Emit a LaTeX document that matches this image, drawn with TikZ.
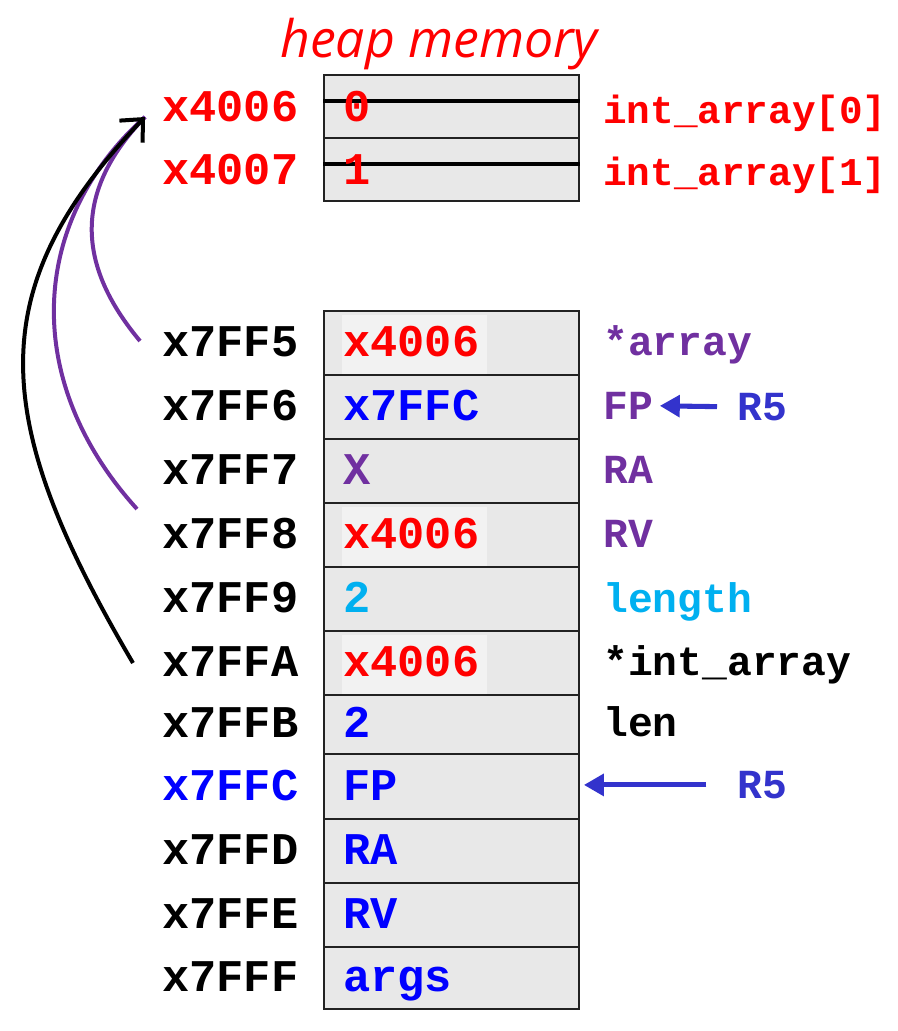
\documentclass[tikz,border=0pt]{standalone}
\usepackage{fontspec}
\newfontfamily\mono{Liberation Mono}
\newfontfamily\headfont{Open Sans}
\usetikzlibrary{arrows.meta}
\definecolor{cred}{HTML}{FF0000}
\definecolor{cblue}{HTML}{0000FF}
\definecolor{cpurple}{HTML}{7030A0}
\definecolor{ccyan}{HTML}{00B0F0}
\definecolor{cr}{HTML}{3333CC}
\definecolor{cellfill}{HTML}{E8E8E8}
\definecolor{hifill}{HTML}{F2F2F2}
\definecolor{border}{HTML}{222222}
\tikzset{
  cell/.style={draw=border, line width=1.4pt, fill=cellfill, minimum width=191.25pt, anchor=north west, inner sep=0},
  hibox/.style={fill=hifill, minimum width=108.75pt, minimum height=44.25pt, anchor=north west, inner sep=0},
  big/.style={font=\mono\bfseries\fontsize{34}{34}\selectfont, inner sep=0, anchor=base west, yshift=-11pt},
  lab/.style={font=\mono\bfseries\fontsize{31}{31}\selectfont, inner sep=0, anchor=base west, yshift=-10pt},
  heaplab/.style={font=\mono\bfseries\fontsize{29.5}{29.5}\selectfont, inner sep=0, anchor=base west, yshift=-9.5pt},
  strike/.style={line width=3.3pt, black},
  ptr/.style={line width=3pt, -{Straight Barb[length=13pt,width=24pt,line width=3pt]}},
  bluearrow/.style={cr, line width=3.8pt, -{Triangle[length=15pt,width=16pt]}},
}
\begin{document}
\begin{tikzpicture}[x=0.75pt,y=-0.75pt]
\useasboundingbox (0,0) rectangle (897,1031);

% title
\node[font=\headfont\itshape\fontsize{38.8}{38.8}\selectfont, text=cred, inner sep=0] (title) at (439,44) {heap memory};

% heap
\node[cell, minimum height=47.25pt] (m0) at (323,74) {};
\node[cell, minimum height=47.25pt] (m1) at (323,137) {};
\draw[strike] (m0.west |- 0,101) -- (m0.east |- 0,101);
\draw[strike] (m1.west |- 0,164) -- (m1.east |- 0,164);
\node[big, text=cred] (v0) at (343,107) {0};
\node[big, text=cred] (v1) at (343,170) {1};
\node[big, text=cred] (h6) at (162,107) {x4006};
\node[big, text=cred] (h7) at (162,170) {x4007};
\node[heaplab, text=cred] (ia0) at (603,111) {int\_array[0]};
\node[heaplab, text=cred] (ia1) at (603,173) {int\_array[1]};

% stack cells
\node[cell, minimum height=48pt] (c5) at (323,310) {};
\node[cell, minimum height=48pt] (c6) at (323,374) {};
\node[cell, minimum height=48pt] (c7) at (323,438) {};
\node[cell, minimum height=48pt] (c8) at (323,502) {};
\node[cell, minimum height=48pt] (c9) at (323,566) {};
\node[cell, minimum height=48pt] (cA) at (323,630) {};
\node[cell, minimum height=44.25pt] (cB) at (323,694) {};
\node[cell, minimum height=48.75pt] (cC) at (323,753) {};
\node[cell, minimum height=48pt] (cD) at (323,818) {};
\node[cell, minimum height=48pt] (cE) at (323,882) {};
\node[cell, minimum height=46.5pt] (cF) at (323,946) {};

\node[hibox] (hi5) at (342,315) {};
\node[hibox] (hi8) at (342,507) {};
\node[hibox] (hiA) at (342,635) {};

% addresses
\node[big] (a5) at (162,342) {x7FF5};
\node[big] (a6) at (162,406) {x7FF6};
\node[big] (a7) at (162,470) {x7FF7};
\node[big] (a8) at (162,534) {x7FF8};
\node[big] (a9) at (162,598) {x7FF9};
\node[big] (aA) at (162,662) {x7FFA};
\node[big] (aB) at (162,723) {x7FFB};
\node[big, text=cblue] (aC) at (162,786) {x7FFC};
\node[big] (aD) at (162,850) {x7FFD};
\node[big] (aE) at (162,914) {x7FFE};
\node[big] (aF) at (162,977) {x7FFF};

% values
\node[big, text=cred] (v5) at (343,342) {x4006};
\node[big, text=cblue] (v6) at (343,406) {x7FFC};
\node[big, text=cpurple] (v7) at (343,470) {X};
\node[big, text=cred] (v8) at (343,534) {x4006};
\node[big, text=ccyan] (v9) at (343,598) {2};
\node[big, text=cred] (vA) at (343,662) {x4006};
\node[big, text=cblue] (vB) at (343,723) {2};
\node[big, text=cblue] (vC) at (343,786) {FP};
\node[big, text=cblue] (vD) at (343,850) {RA};
\node[big, text=cblue] (vE) at (343,914) {RV};
\node[big, text=cblue] (vF) at (343,977) {args};

% right labels
\node[lab, text=cpurple] (l5) at (603,342) {*array};
\node[lab, text=cpurple] (l6) at (603,406) {FP};
\node[lab, text=cpurple] (l7) at (603,470) {RA};
\node[lab, text=cpurple] (l8) at (603,534) {RV};
\node[lab, text=ccyan] (l9) at (603,599) {length};
\node[lab] (lA) at (603,662) {*int\_array};
\node[lab] (lB) at (603,723) {len};

\node[lab, text=cr] (r5a) at (737,407) {R5};
\node[lab, text=cr] (r5b) at (737,785) {R5};

\draw[bluearrow, shorten <=15pt, shorten >=5pt] (r5a.west) -- (l6.east);
\draw[bluearrow, shorten <=23pt, shorten >=3pt] (r5b.west) -- (r5b.west -| cC.east);

% pointer curves
\coordinate (tip) at (145,117);
\coordinate (sA) at (133,663);
\coordinate (s8) at (137,509);
\coordinate (s5) at (140,341);
\draw[ptr, cpurple, -] (s5) .. controls (85,275) and (65,200) .. (tip);
\draw[ptr, cpurple, -] (s8) .. controls (20,380) and (30,220) .. (tip);
\draw[ptr, black] (sA) .. controls (-10,420) and (-20,290) .. (tip);
\end{tikzpicture}
\end{document}
